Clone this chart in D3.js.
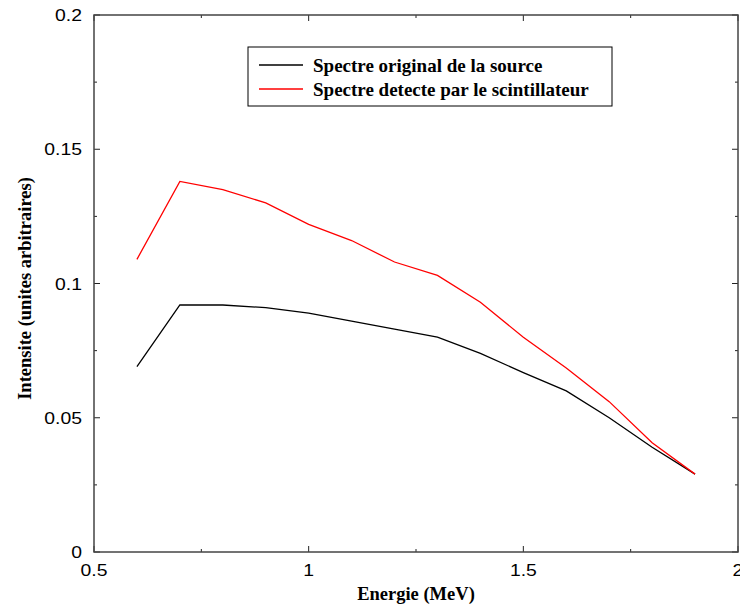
<!DOCTYPE html>
<html><head><meta charset="utf-8">
<script src="https://cdn.jsdelivr.net/npm/d3@7"></script>
<style>body{margin:0;background:#fff}svg{display:block}</style>
</head><body>
<svg id="c" width="740" height="610"></svg>
<script>
const energies = [0.6,0.7,0.8,0.9,1.0,1.1,1.2,1.3,1.4,1.5,1.6,1.7,1.8,1.9];
const original = [0.069,0.092,0.092,0.091,0.089,0.086,0.083,0.080,0.074,0.0668,0.060,0.050,0.039,0.029];
const detected = [0.109,0.138,0.135,0.130,0.122,0.116,0.108,0.103,0.093,0.080,0.0685,0.056,0.0407,0.029];
const xTicks = [0.5,1,1.5,2];
const xMinor = [0.75,1.25,1.75];
const yTicks = [0,0.05,0.1,0.15,0.2];
const yMinor = [0.025,0.075,0.125,0.175];
const seriesNames = ["Spectre original de la source","Spectre detecte par le scintillateur"];
const seriesColors = ["#000000","#ff0000"];

const svg = d3.select("#c");
const L=94,R=738,T=15,B=552;
const x = d3.scaleLinear().domain([0.5,2]).range([L,R]);
const y = d3.scaleLinear().domain([0,0.2]).range([B,T]);
const fmt = d => d===0?"0":String(d);

const g = svg.append("g");
const tickStyle = sel => sel.attr("stroke","#222").attr("stroke-width",1);
xTicks.forEach(v=>{
  tickStyle(g.append("line").attr("x1",x(v)).attr("x2",x(v)).attr("y1",B).attr("y2",B-6));
  tickStyle(g.append("line").attr("x1",x(v)).attr("x2",x(v)).attr("y1",T).attr("y2",T+6));
});
xMinor.forEach(v=>{
  tickStyle(g.append("line").attr("x1",x(v)).attr("x2",x(v)).attr("y1",B).attr("y2",B-3));
  tickStyle(g.append("line").attr("x1",x(v)).attr("x2",x(v)).attr("y1",T).attr("y2",T+3));
});
yTicks.forEach(v=>{
  tickStyle(g.append("line").attr("x1",L).attr("x2",L+6).attr("y1",y(v)).attr("y2",y(v)));
  tickStyle(g.append("line").attr("x1",R).attr("x2",R-6).attr("y1",y(v)).attr("y2",y(v)));
});
yMinor.forEach(v=>{
  tickStyle(g.append("line").attr("x1",L).attr("x2",L+3).attr("y1",y(v)).attr("y2",y(v)));
  tickStyle(g.append("line").attr("x1",R).attr("x2",R-3).attr("y1",y(v)).attr("y2",y(v)));
});
g.append("rect").attr("x",L).attr("y",T).attr("width",R-L).attr("height",B-T)
 .attr("fill","none").attr("stroke","#444").attr("stroke-width",1.5);

const tf = "'Liberation Sans', Arial, Helvetica, sans-serif";
xTicks.forEach(v=>{
  g.append("text").attr("transform",`translate(${x(v)},576) scale(1.14,1)`).attr("text-anchor","middle")
   .attr("font-family",tf).attr("font-size",17).attr("fill","#000").text(fmt(v));
});
yTicks.forEach(v=>{
  g.append("text").attr("transform",`translate(82,${y(v)+6}) scale(1.14,1)`).attr("text-anchor","end")
   .attr("font-family",tf).attr("font-size",17).attr("fill","#000").text(fmt(v));
});

const sf = "'Liberation Serif', 'Times New Roman', Times, serif";
g.append("text").attr("x",(L+R)/2).attr("y",600).attr("text-anchor","middle")
 .attr("font-family",sf).attr("font-weight","bold").attr("font-size",18.5).text("Energie (MeV)");
g.append("text").attr("transform",`translate(31,${(T+B)/2+5}) rotate(-90)`).attr("text-anchor","middle")
 .attr("font-family",sf).attr("font-weight","bold").attr("font-size",18.5).text("Intensite (unites arbitraires)");

const line = d3.line().x((d,i)=>x(energies[i])).y(d=>y(d));
[original,detected].forEach((s,k)=>{
  g.append("path").datum(s).attr("d",line).attr("fill","none")
   .attr("stroke",seriesColors[k]).attr("stroke-width",1.3);
});

g.append("rect").attr("x",248).attr("y",47).attr("width",364).attr("height",59)
 .attr("fill","#fff").attr("stroke","#000").attr("stroke-width",1);
seriesNames.forEach((n,k)=>{
  const yy = 65 + k*24;
  g.append("line").attr("x1",259).attr("x2",303).attr("y1",yy).attr("y2",yy)
   .attr("stroke",seriesColors[k]).attr("stroke-width",1.3);
  g.append("text").attr("x",313).attr("y",yy+6.5).attr("font-family",sf)
   .attr("font-weight","bold").attr("font-size",19).attr("fill","#000").text(n);
});
</script>
</body></html>
